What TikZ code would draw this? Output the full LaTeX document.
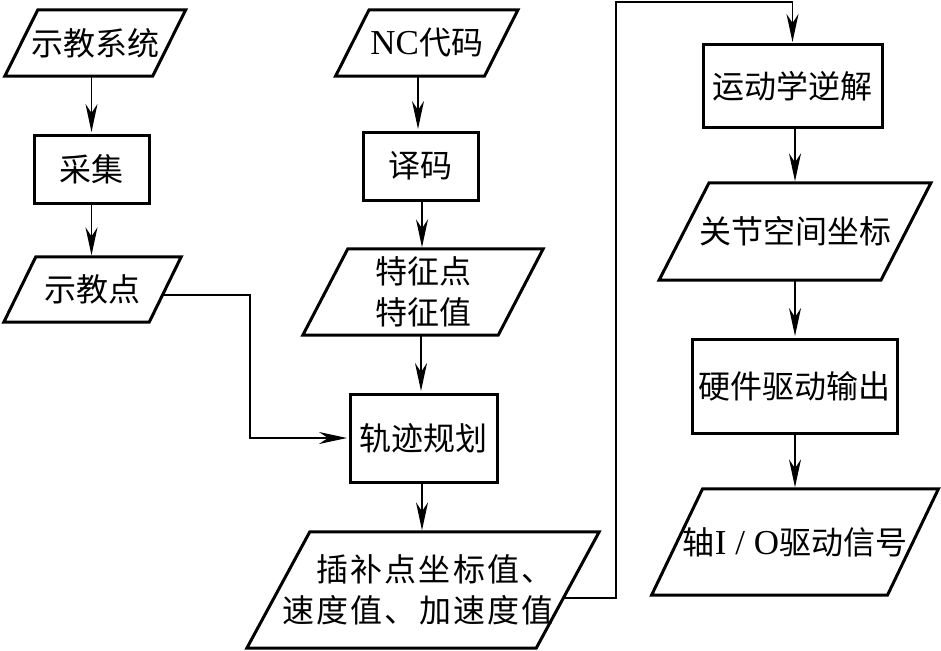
\documentclass[tikz,border=0pt]{standalone}
\usepackage{fontspec}
\setmainfont{Liberation Serif}
\newfontfamily\cjk{Noto Sans CJK SC}
\newfontfamily\cjkwide[LetterSpace=7]{Noto Sans CJK SC}
\newcommand{\lat}[1]{{\rmfamily\fontsize{35}{41}\selectfont #1}}
\usetikzlibrary{arrows.meta,calc}
\newcommand{\drawpara}[2]{\draw[boxline] ([xshift={-(#2)/2}]#1.south west) -- ([xshift={-(#2)/2}]#1.south east) -- ([xshift={(#2)/2}]#1.north east) -- ([xshift={(#2)/2}]#1.north west) -- cycle;}
\begin{document}
\begin{tikzpicture}[x=1pt,y=-1pt,
  lbl/.style={inner sep=0pt, font=\fontsize{32}{41}\selectfont\cjk, align=center},
  rbox/.style={lbl, draw, line width=3pt},
  pbox/.style={lbl},
  boxline/.style={line width=3pt, line join=miter},
  conn/.style={line width=1.4pt},
  arr/.style={conn, shorten >=1.5pt, -{Stealth[length=28pt,width=12pt,inset=9pt]}}]
\fill[white] (0,0) rectangle (941,650);
\useasboundingbox (0,0) rectangle (941,650);

% column 1
\node[pbox, minimum width=147.5pt, minimum height=66pt] (sjxt) at (95.25,43) {示教系统};
\drawpara{sjxt}{33}
\node[rbox, minimum width=115pt, minimum height=68pt] (cj) at (91.5,169) {采集};
\node[pbox, minimum width=145pt, minimum height=65pt] (sjd) at (92.5,289.5) {示教点};
\drawpara{sjd}{32}

% column 2
\node[pbox, minimum width=148.5pt, minimum height=66pt] (nc) at (426.75,43) {\lat{NC}代码};
\drawpara{nc}{33.5}
\node[rbox, minimum width=115pt, minimum height=68pt] (ym) at (420.5,166) {译码};
\node[pbox, minimum width=195pt, minimum height=86pt] (tz) at (423,292) {特征点\\特征值};
\drawpara{tz}{45}
\node[rbox, minimum width=147pt, minimum height=88pt] (gj) at (423.5,438) {轨迹规划};
\node[pbox, minimum width=289pt, minimum height=116pt] (cb) at (423,590) {\hspace*{34pt}\cjkwide 插补点坐标值、\hspace*{10pt}\\\cjkwide 速度值、加速度值\hspace*{10pt}};
\drawpara{cb}{63}

% column 3
\node[rbox, minimum width=179pt, minimum height=82pt] (ik) at (792.5,86) {运动学逆解};
\node[pbox, minimum width=221.5pt, minimum height=97pt] (gjkj) at (795,231.5) {关节空间坐标};
\drawpara{gjkj}{50}
\node[rbox, minimum width=205pt, minimum height=94pt] (yj) at (794.5,386) {硬件驱动输出};
\node[pbox, minimum width=235.5pt, minimum height=106pt] (io) at (795,542) {轴\lat{I / O}驱动信号};
\drawpara{io}{51}

% connectors
\draw[arr] (sjxt.south -| cj.north) -- (cj.north);
\draw[arr] (cj.south) -- (cj.south |- sjd.north);
\draw[arr] (nc.south -| 418,0) -- (ym.north -| 418,0);
\draw[arr] (ym.south -| 422,0) -- (tz.north -| 422,0);
\draw[arr] (tz.south -| 421,0) -- (gj.north -| 421,0);
\draw[arr] (gj.south -| 422,0) -- (cb.north -| 422,0);
\draw[arr] (ik.south -| 795,0) -- (gjkj.north -| 795,0);
\draw[arr] (gjkj.south -| 795,0) -- (yj.north -| 795,0);
\draw[arr] (yj.south -| 795,0) -- (io.north -| 795,0);

\coordinate (p3r) at (162,295);
\coordinate (c3) at (250,295);
\draw[arr] (p3r) -- (c3) |- (gj.west);

\coordinate (p8r) at (563,598);
\coordinate (c1) at (616,598);
\coordinate (c2) at (616,2);
\draw[arr] (p8r) -- (c1) -- (c2) -| (ik.north);
\end{tikzpicture}
\end{document}
